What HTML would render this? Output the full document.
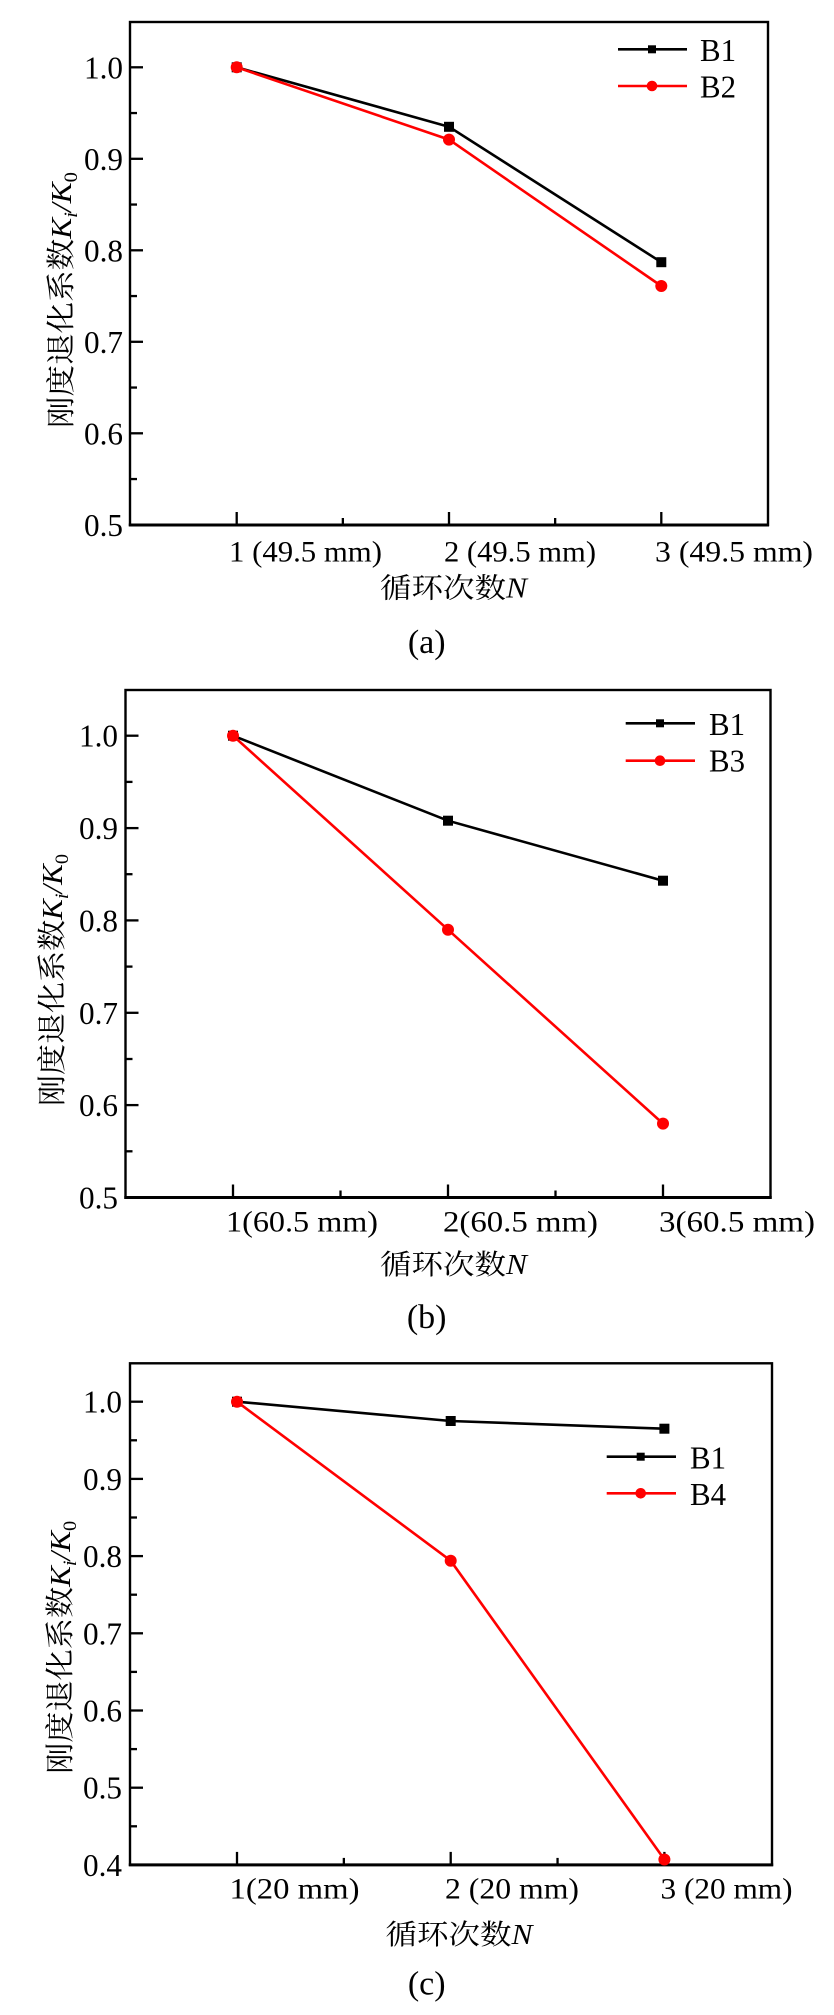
<!DOCTYPE html>
<html><head><meta charset="utf-8"><style>
html,body{margin:0;padding:0;background:#fff;}
svg{display:block;}
.t{font-family:"Liberation Serif","Noto Serif CJK SC",serif;font-size:30px;fill:#000;}
.k{font-family:"Liberation Serif","Noto Serif CJK SC",serif;font-size:32px;fill:#000;}
.c{font-family:"Liberation Serif","Noto Serif CJK SC",serif;font-size:28px;fill:#000;}
</style></head><body>
<svg width="834" height="2015" viewBox="0 0 834 2015" xmlns="http://www.w3.org/2000/svg">
<rect width="834" height="2015" fill="#fff"/>

<!-- ================= Panel (a) ================= -->
<g>
<rect x="130" y="22" width="638" height="503" fill="none" stroke="#000" stroke-width="2.4"/>
<line x1="128.8" y1="525" x2="769" y2="525" stroke="#000" stroke-width="3"/>
<g stroke="#000" stroke-width="2.3">
<line x1="130" y1="67.3" x2="143" y2="67.3"/><line x1="130" y1="113.05" x2="137" y2="113.05"/>
<line x1="130" y1="158.8" x2="143" y2="158.8"/><line x1="130" y1="204.55" x2="137" y2="204.55"/>
<line x1="130" y1="250.3" x2="143" y2="250.3"/><line x1="130" y1="296.05" x2="137" y2="296.05"/>
<line x1="130" y1="341.8" x2="143" y2="341.8"/><line x1="130" y1="387.55" x2="137" y2="387.55"/>
<line x1="130" y1="433.3" x2="143" y2="433.3"/><line x1="130" y1="479.05" x2="137" y2="479.05"/>
<line x1="236.7" y1="525" x2="236.7" y2="512"/><line x1="342.85" y1="525" x2="342.85" y2="518"/>
<line x1="449" y1="525" x2="449" y2="512"/><line x1="555.15" y1="525" x2="555.15" y2="518"/>
<line x1="661.3" y1="525" x2="661.3" y2="512"/>
</g>
<g class="k" text-anchor="end">
<text x="123" y="78.3" textLength="39" lengthAdjust="spacingAndGlyphs">1.0</text>
<text x="123" y="169.8" textLength="39" lengthAdjust="spacingAndGlyphs">0.9</text>
<text x="123" y="261.3" textLength="39" lengthAdjust="spacingAndGlyphs">0.8</text>
<text x="123" y="352.8" textLength="39" lengthAdjust="spacingAndGlyphs">0.7</text>
<text x="123" y="444.3" textLength="39" lengthAdjust="spacingAndGlyphs">0.6</text>
<text x="123" y="535.8" textLength="39" lengthAdjust="spacingAndGlyphs">0.5</text>
</g>
<g class="t">
<text x="229" y="561.7" textLength="153" lengthAdjust="spacingAndGlyphs">1 (49.5 mm)</text>
<text x="444" y="561.7" textLength="152" lengthAdjust="spacingAndGlyphs">2 (49.5 mm)</text>
<text x="655" y="561.7" textLength="158" lengthAdjust="spacingAndGlyphs">3 (49.5 mm)</text>
</g>
<text class="c" x="380" y="597.5" textLength="147" lengthAdjust="spacingAndGlyphs">循环次数<tspan font-style="italic">N</tspan></text>
<text class="t" x="426.7" y="653" text-anchor="middle" style="font-size:34px">(a)</text>
<text class="c" transform="translate(71,300) rotate(-90)" text-anchor="middle" style="font-size:29px" textLength="256" lengthAdjust="spacingAndGlyphs">刚度退化系数<tspan font-style="italic">K</tspan><tspan font-style="italic" dy="6" style="font-size:19px">i</tspan><tspan dy="-6" font-style="italic">/K</tspan><tspan dy="6" style="font-size:19px">0</tspan></text>
<polyline points="236.7,67.3 449,126.8 661.3,262.2" fill="none" stroke="#000" stroke-width="2.6"/>
<rect x="231.7" y="62.3" width="10" height="10" fill="#000"/>
<rect x="444" y="121.8" width="10" height="10" fill="#000"/>
<rect x="656.3" y="257.2" width="10" height="10" fill="#000"/>
<polyline points="236.7,67.3 449,139.6 661.3,286" fill="none" stroke="#f00" stroke-width="2.6"/>
<circle cx="236.7" cy="67.3" r="6" fill="#f00"/>
<circle cx="449" cy="139.6" r="6" fill="#f00"/>
<circle cx="661.3" cy="286" r="6" fill="#f00"/>
<line x1="618" y1="49.3" x2="687" y2="49.3" stroke="#000" stroke-width="2.6"/>
<rect x="648" y="45.3" width="8" height="8" fill="#000"/>
<line x1="618" y1="86" x2="687" y2="86" stroke="#f00" stroke-width="2.6"/>
<circle cx="652" cy="86" r="5.3" fill="#f00"/>
<text class="k" x="700" y="61" textLength="36" lengthAdjust="spacingAndGlyphs">B1</text>
<text class="k" x="700" y="97.7" textLength="36" lengthAdjust="spacingAndGlyphs">B2</text>
</g>

<!-- ================= Panel (b) ================= -->
<g>
<rect x="125.5" y="690" width="645" height="507.5" fill="none" stroke="#000" stroke-width="2.4"/>
<line x1="124.3" y1="1197.5" x2="771.7" y2="1197.5" stroke="#000" stroke-width="3"/>
<g stroke="#000" stroke-width="2.3">
<line x1="125.5" y1="735.7" x2="138.5" y2="735.7"/><line x1="125.5" y1="781.9" x2="132.5" y2="781.9"/>
<line x1="125.5" y1="828.1" x2="138.5" y2="828.1"/><line x1="125.5" y1="874.2" x2="132.5" y2="874.2"/>
<line x1="125.5" y1="920.4" x2="138.5" y2="920.4"/><line x1="125.5" y1="966.6" x2="132.5" y2="966.6"/>
<line x1="125.5" y1="1012.8" x2="138.5" y2="1012.8"/><line x1="125.5" y1="1059" x2="132.5" y2="1059"/>
<line x1="125.5" y1="1105.1" x2="138.5" y2="1105.1"/><line x1="125.5" y1="1151.3" x2="132.5" y2="1151.3"/>
<line x1="233" y1="1197.5" x2="233" y2="1184.5"/><line x1="340.5" y1="1197.5" x2="340.5" y2="1190.5"/>
<line x1="448" y1="1197.5" x2="448" y2="1184.5"/><line x1="555.5" y1="1197.5" x2="555.5" y2="1190.5"/>
<line x1="663" y1="1197.5" x2="663" y2="1184.5"/>
</g>
<g class="k" text-anchor="end">
<text x="118" y="746.7" textLength="39" lengthAdjust="spacingAndGlyphs">1.0</text>
<text x="118" y="839.1" textLength="39" lengthAdjust="spacingAndGlyphs">0.9</text>
<text x="118" y="931.4" textLength="39" lengthAdjust="spacingAndGlyphs">0.8</text>
<text x="118" y="1023.8" textLength="39" lengthAdjust="spacingAndGlyphs">0.7</text>
<text x="118" y="1116.1" textLength="39" lengthAdjust="spacingAndGlyphs">0.6</text>
<text x="118" y="1208.5" textLength="39" lengthAdjust="spacingAndGlyphs">0.5</text>
</g>
<g class="t">
<text x="226" y="1231.7" textLength="152" lengthAdjust="spacingAndGlyphs">1(60.5 mm)</text>
<text x="443" y="1231.7" textLength="155" lengthAdjust="spacingAndGlyphs">2(60.5 mm)</text>
<text x="659" y="1231.7" textLength="156" lengthAdjust="spacingAndGlyphs">3(60.5 mm)</text>
</g>
<text class="c" x="380" y="1274" textLength="147" lengthAdjust="spacingAndGlyphs">循环次数<tspan font-style="italic">N</tspan></text>
<text class="t" x="426.7" y="1328" text-anchor="middle" style="font-size:34px">(b)</text>
<text class="c" transform="translate(62,980) rotate(-90)" text-anchor="middle" style="font-size:29px" textLength="252" lengthAdjust="spacingAndGlyphs">刚度退化系数<tspan font-style="italic">K</tspan><tspan font-style="italic" dy="6" style="font-size:19px">i</tspan><tspan dy="-6" font-style="italic">/K</tspan><tspan dy="6" style="font-size:19px">0</tspan></text>
<polyline points="233,735.7 448,820.7 663,880.7" fill="none" stroke="#000" stroke-width="2.6"/>
<rect x="228" y="730.7" width="10" height="10" fill="#000"/>
<rect x="443" y="815.7" width="10" height="10" fill="#000"/>
<rect x="658" y="875.7" width="10" height="10" fill="#000"/>
<polyline points="233,735.7 448,929.7 663,1123.6" fill="none" stroke="#f00" stroke-width="2.6"/>
<circle cx="233" cy="735.7" r="6" fill="#f00"/>
<circle cx="448" cy="929.7" r="6" fill="#f00"/>
<circle cx="663" cy="1123.6" r="6" fill="#f00"/>
<line x1="625.7" y1="723.3" x2="695" y2="723.3" stroke="#000" stroke-width="2.6"/>
<rect x="656" y="719.3" width="8" height="8" fill="#000"/>
<line x1="625.7" y1="760.7" x2="695" y2="760.7" stroke="#f00" stroke-width="2.6"/>
<circle cx="660" cy="760.7" r="5.3" fill="#f00"/>
<text class="k" x="709" y="735" textLength="36" lengthAdjust="spacingAndGlyphs">B1</text>
<text class="k" x="709" y="771.7" textLength="36" lengthAdjust="spacingAndGlyphs">B3</text>
</g>

<!-- ================= Panel (c) ================= -->
<g>
<rect x="130" y="1363.3" width="642" height="501.6" fill="none" stroke="#000" stroke-width="2.4"/>
<line x1="128.8" y1="1864.9" x2="773.2" y2="1864.9" stroke="#000" stroke-width="3"/>
<g stroke="#000" stroke-width="2.3">
<line x1="130" y1="1401.7" x2="143" y2="1401.7"/><line x1="130" y1="1440.3" x2="137" y2="1440.3"/>
<line x1="130" y1="1478.9" x2="143" y2="1478.9"/><line x1="130" y1="1517.5" x2="137" y2="1517.5"/>
<line x1="130" y1="1556.1" x2="143" y2="1556.1"/><line x1="130" y1="1594.7" x2="137" y2="1594.7"/>
<line x1="130" y1="1633.3" x2="143" y2="1633.3"/><line x1="130" y1="1671.9" x2="137" y2="1671.9"/>
<line x1="130" y1="1710.5" x2="143" y2="1710.5"/><line x1="130" y1="1749.1" x2="137" y2="1749.1"/>
<line x1="130" y1="1787.7" x2="143" y2="1787.7"/><line x1="130" y1="1826.3" x2="137" y2="1826.3"/>
<line x1="237" y1="1864.9" x2="237" y2="1851.9"/><line x1="343.85" y1="1864.9" x2="343.85" y2="1857.9"/>
<line x1="450.7" y1="1864.9" x2="450.7" y2="1851.9"/><line x1="557.55" y1="1864.9" x2="557.55" y2="1857.9"/>
<line x1="664.4" y1="1864.9" x2="664.4" y2="1851.9"/>
</g>
<g class="k" text-anchor="end">
<text x="122" y="1412.7" textLength="39" lengthAdjust="spacingAndGlyphs">1.0</text>
<text x="122" y="1489.9" textLength="39" lengthAdjust="spacingAndGlyphs">0.9</text>
<text x="122" y="1567.1" textLength="39" lengthAdjust="spacingAndGlyphs">0.8</text>
<text x="122" y="1644.3" textLength="39" lengthAdjust="spacingAndGlyphs">0.7</text>
<text x="122" y="1721.5" textLength="39" lengthAdjust="spacingAndGlyphs">0.6</text>
<text x="122" y="1798.7" textLength="39" lengthAdjust="spacingAndGlyphs">0.5</text>
<text x="122" y="1875.9" textLength="39" lengthAdjust="spacingAndGlyphs">0.4</text>
</g>
<g class="t">
<text x="229.5" y="1898.3" textLength="130" lengthAdjust="spacingAndGlyphs">1(20 mm)</text>
<text x="445" y="1898.3" textLength="134" lengthAdjust="spacingAndGlyphs">2 (20 mm)</text>
<text x="660.5" y="1898.3" textLength="132" lengthAdjust="spacingAndGlyphs">3 (20 mm)</text>
</g>
<text class="c" x="385.5" y="1944" textLength="147" lengthAdjust="spacingAndGlyphs">循环次数<tspan font-style="italic">N</tspan></text>
<text class="t" x="426.7" y="1994.5" text-anchor="middle" style="font-size:34px">(c)</text>
<text class="c" transform="translate(70,1647.3) rotate(-90)" text-anchor="middle" style="font-size:29px" textLength="253" lengthAdjust="spacingAndGlyphs">刚度退化系数<tspan font-style="italic">K</tspan><tspan font-style="italic" dy="6" style="font-size:19px">i</tspan><tspan dy="-6" font-style="italic">/K</tspan><tspan dy="6" style="font-size:19px">0</tspan></text>
<polyline points="237,1401.7 450.7,1421 664.4,1428.7" fill="none" stroke="#000" stroke-width="2.6"/>
<rect x="232" y="1396.7" width="10" height="10" fill="#000"/>
<rect x="445.7" y="1416" width="10" height="10" fill="#000"/>
<rect x="659.4" y="1423.7" width="10" height="10" fill="#000"/>
<polyline points="237,1401.7 450.7,1560.7 664.4,1859.5" fill="none" stroke="#f00" stroke-width="2.6"/>
<circle cx="237" cy="1401.7" r="6" fill="#f00"/>
<circle cx="450.7" cy="1560.7" r="6" fill="#f00"/>
<circle cx="664.4" cy="1859.5" r="6" fill="#f00"/>
<line x1="606.7" y1="1456.7" x2="676" y2="1456.7" stroke="#000" stroke-width="2.6"/>
<rect x="636.7" y="1452.7" width="8" height="8" fill="#000"/>
<line x1="606.7" y1="1493.3" x2="676" y2="1493.3" stroke="#f00" stroke-width="2.6"/>
<circle cx="640.7" cy="1493.3" r="5.3" fill="#f00"/>
<text class="k" x="690" y="1468.3" textLength="36" lengthAdjust="spacingAndGlyphs">B1</text>
<text class="k" x="690" y="1505" textLength="36" lengthAdjust="spacingAndGlyphs">B4</text>
</g>
</svg>
</body></html>
